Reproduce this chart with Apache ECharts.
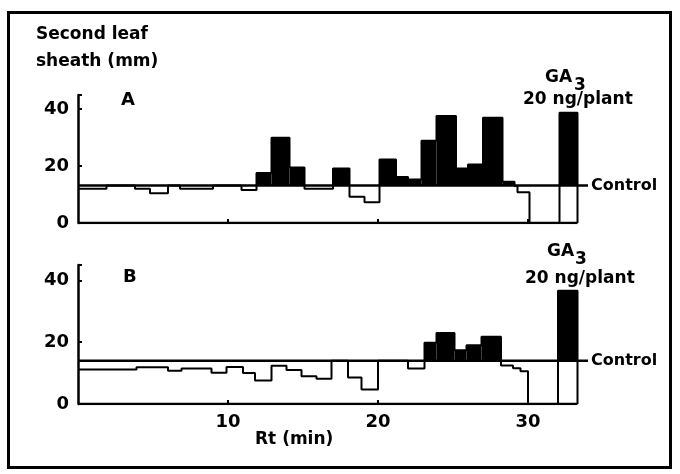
<!DOCTYPE html>
<html><head><meta charset="utf-8">
<script src="https://cdn.jsdelivr.net/npm/echarts@6/dist/echarts.min.js"></script>
<style>html,body{margin:0;padding:0;background:#fff}#c{width:680px;height:474px}</style>
</head><body><div id="c"></div>
<script>
// Panel A: fraction edges (Rt, min) and leaf-sheath length (mm)
const edgesA = [0,1.9,3.8,4.8,6.0,6.8,9.0,10.9,11.9,12.9,14.1,15.1,17.0,18.1,19.1,20.1,21.2,22.0,22.9,23.9,25.2,26.0,27.0,28.3,29.1,29.3,30.1,32.1,33.3];
const valuesA = [12,13.2,12,10.5,13.2,12,13.2,11.6,17.6,30,19.5,12,19.2,9.2,7.3,22.3,16.2,15.3,28.9,37.6,19.2,20.6,37,14.5,13,10.8,0,38.8];
const controlA = 13.2;
// Panel B
const edgesB = [0,3.9,6.0,6.9,8.9,9.9,11.0,11.8,12.9,13.9,14.9,15.9,16.9,18.0,18.9,20.0,22.0,23.1,23.9,25.1,25.9,26.9,28.2,29.0,29.5,30.0,32.0,33.3];
const valuesB = [11.2,11.9,10.8,11.5,10.1,12,10,7.6,12.4,11,9,8.2,14,8.6,4.7,14,11.5,19.8,23,17.4,19,21.8,12.5,11.6,10.6,0,36.7];
const controlB = 14;
const controlEnd = 34;
const xTicks = [10,20,30];
const yTicks = {min:0, max:45, interval:20};

const FONT = '"DejaVu Sans", sans-serif';

function stepData(edges, values){
  const d = edges.map((e,i)=>[e, values[Math.min(i, values.length-1)]]);
  d.push([edges[edges.length-1], 0]);
  return d;
}
function fillData(edges, values, ctrl){
  const d = [];
  values.forEach((v,i)=>{ if (v > ctrl) d.push([edges[i], edges[i+1], v, ctrl]); });
  return d;
}
function renderFill(params, api){
  const p0 = api.coord([api.value(0), api.value(3)]);
  const p1 = api.coord([api.value(1), api.value(2)]);
  return {type:'rect', shape:{x:p0[0], y:p1[1], width:p1[0]-p0[0], height:p0[1]-p1[1]}, style:{fill:'#000'}};
}

function panelSeries(idx, edges, values, ctrl){
  const last = edges[edges.length-1];
  return [
    {type:'custom', xAxisIndex:idx, yAxisIndex:idx, renderItem:renderFill,
     data:fillData(edges, values, ctrl), encode:{x:[0,1], y:2}, z:2, silent:true},
    {type:'line', xAxisIndex:idx, yAxisIndex:idx, step:'end', data:stepData(edges, values),
     showSymbol:false, lineStyle:{color:'#000', width:2}, z:3, silent:true},
    {type:'line', xAxisIndex:idx, yAxisIndex:idx, data:[[0,0],[last,0]],
     showSymbol:false, lineStyle:{color:'#000', width:2.5}, z:4, silent:true},
    {type:'line', xAxisIndex:idx, yAxisIndex:idx, data:[[0,ctrl],[controlEnd,ctrl]],
     showSymbol:false, lineStyle:{color:'#000', width:2.5}, z:4, silent:true,
     endLabel:{show:true, formatter:'Control', distance:3, color:'#000',
       fontFamily:FONT, fontWeight:'bold', fontSize:16}}
  ];
}

function yAxis(idx){
  return {gridIndex:idx, type:'value', min:yTicks.min, max:yTicks.max, interval:yTicks.interval,
    axisLine:{show:true, lineStyle:{color:'#000', width:2.5}},
    axisTick:{show:true, inside:true, length:4, lineStyle:{color:'#000', width:2}},
    axisLabel:{color:'#000', fontFamily:FONT, fontWeight:'bold', fontSize:18, margin:9,
      customValues:[0,20,40]},
    splitLine:{show:false}};
}
function xAxis(idx, labels){
  return {gridIndex:idx, type:'value', min:0, max:controlEnd,
    axisLine:{show:false},
    axisTick:{show:true, inside:true, length:4, customValues:xTicks, lineStyle:{color:'#000', width:2}},
    axisLabel:{show:labels, customValues:xTicks, color:'#000', fontFamily:FONT, fontWeight:'bold', fontSize:18, margin:9},
    splitLine:{show:false}};
}

function txt(text, x, y, size){
  return {type:'text', style:{text:text, x:x, y:y, fill:'#000', font:'bold '+(size||17)+'px '+FONT,
    align:'left', verticalAlign:'middle'}};
}

const chart = echarts.init(document.getElementById('c'), null, {renderer:'canvas'});
chart.setOption({
  backgroundColor:'#fff',
  animation:false,
  grid:[
    {left:78, top:95, width:controlEnd*15, height:128},
    {left:78, top:265, width:controlEnd*15, height:139}
  ],
  xAxis:[xAxis(0,false), xAxis(1,true)],
  yAxis:[yAxis(0), yAxis(1)],
  series:[].concat(panelSeries(0, edgesA, valuesA, controlA), panelSeries(1, edgesB, valuesB, controlB)),
  graphic:[
    {type:'rect', shape:{x:8.5, y:12.5, width:662, height:455}, style:{fill:null, stroke:'#000', lineWidth:3}, z:-1},
    txt('Second leaf', 36, 35),
    txt('sheath (mm)', 36, 62),
    txt('A', 121, 100, 18),
    txt('B', 123, 277, 18),
    txt('GA', 545, 78),
    txt('3', 574, 86),
    txt('20 ng/plant', 523, 100),
    txt('GA', 547, 252),
    txt('3', 575, 260),
    txt('20 ng/plant', 525, 279),
    txt('Rt (min)', 255, 440)
  ]
});
</script></body></html>
